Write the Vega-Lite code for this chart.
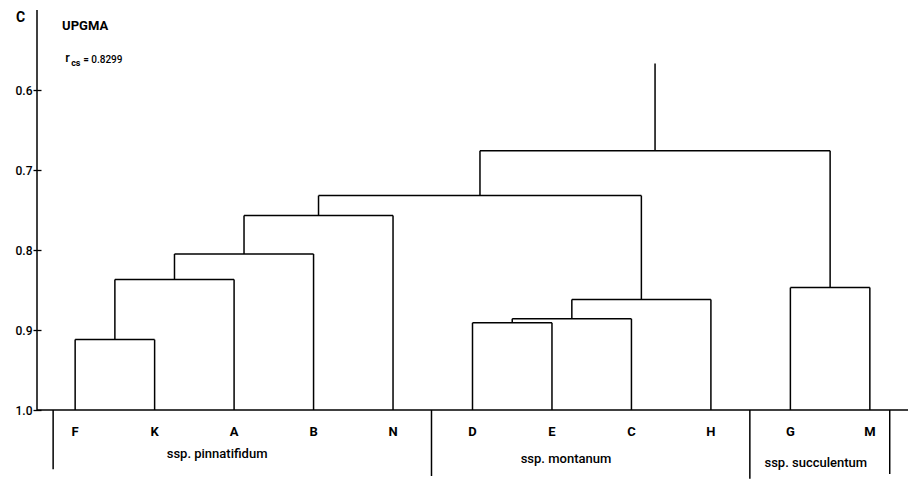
{
  "$schema": "https://vega.github.io/schema/vega-lite/v6.json",
  "width": 871,
  "height": 470,
  "autosize": "none",
  "padding": {"left": 37, "top": 10, "right": 0, "bottom": 0},
  "background": "white",
  "config": {"view": {"stroke": null}},
  "datasets": {
    "tree": [
      {"x": 1, "x2": 2, "y": 0.912, "y2": 0.912},
      {"x": 1, "x2": 1, "y": 0.912, "y2": 1.0},
      {"x": 2, "x2": 2, "y": 0.912, "y2": 1.0},
      {"x": 1.5, "x2": 3, "y": 0.837, "y2": 0.837},
      {"x": 1.5, "x2": 1.5, "y": 0.837, "y2": 0.912},
      {"x": 3, "x2": 3, "y": 0.837, "y2": 1.0},
      {"x": 2.25, "x2": 4, "y": 0.805, "y2": 0.805},
      {"x": 2.25, "x2": 2.25, "y": 0.805, "y2": 0.837},
      {"x": 4, "x2": 4, "y": 0.805, "y2": 1.0},
      {"x": 3.125, "x2": 5, "y": 0.757, "y2": 0.757},
      {"x": 3.125, "x2": 3.125, "y": 0.757, "y2": 0.805},
      {"x": 5, "x2": 5, "y": 0.757, "y2": 1.0},
      {"x": 6, "x2": 7, "y": 0.891, "y2": 0.891},
      {"x": 6, "x2": 6, "y": 0.891, "y2": 1.0},
      {"x": 7, "x2": 7, "y": 0.891, "y2": 1.0},
      {"x": 6.5, "x2": 8, "y": 0.886, "y2": 0.886},
      {"x": 6.5, "x2": 6.5, "y": 0.886, "y2": 0.891},
      {"x": 8, "x2": 8, "y": 0.886, "y2": 1.0},
      {"x": 7.25, "x2": 9, "y": 0.862, "y2": 0.862},
      {"x": 7.25, "x2": 7.25, "y": 0.862, "y2": 0.886},
      {"x": 9, "x2": 9, "y": 0.862, "y2": 1.0},
      {"x": 4.0625, "x2": 8.125, "y": 0.732, "y2": 0.732},
      {"x": 4.0625, "x2": 4.0625, "y": 0.732, "y2": 0.757},
      {"x": 8.125, "x2": 8.125, "y": 0.732, "y2": 0.862},
      {"x": 10, "x2": 11, "y": 0.847, "y2": 0.847},
      {"x": 10, "x2": 10, "y": 0.847, "y2": 1.0},
      {"x": 11, "x2": 11, "y": 0.847, "y2": 1.0},
      {"x": 6.094, "x2": 10.5, "y": 0.676, "y2": 0.676},
      {"x": 6.094, "x2": 6.094, "y": 0.676, "y2": 0.732},
      {"x": 10.5, "x2": 10.5, "y": 0.676, "y2": 0.847},
      {"x": 8.297, "x2": 8.297, "y": 0.567, "y2": 0.676}
    ],
    "frame": [
      {"x": 0.52, "x2": 0.52, "y": 0.5, "y2": 1.0},
      {"x": 0.52, "x2": 11.48, "y": 1.0, "y2": 1.0},
      {"x": 0.723, "x2": 0.723, "y": 1.0, "y2": 1.074},
      {"x": 5.484, "x2": 5.484, "y": 1.0, "y2": 1.0825},
      {"x": 9.49, "x2": 9.49, "y": 1.0, "y2": 1.086},
      {"x": 11.25, "x2": 11.25, "y": 1.0, "y2": 1.08}
    ],
    "leaves": [
      {"x": 1, "y": 1.027, "label": "F"},
      {"x": 2, "y": 1.027, "label": "K"},
      {"x": 3, "y": 1.027, "label": "A"},
      {"x": 4, "y": 1.027, "label": "B"},
      {"x": 5, "y": 1.027, "label": "N"},
      {"x": 6, "y": 1.027, "label": "D"},
      {"x": 7, "y": 1.027, "label": "E"},
      {"x": 8, "y": 1.027, "label": "C"},
      {"x": 9, "y": 1.027, "label": "H"},
      {"x": 10, "y": 1.027, "label": "G"},
      {"x": 11, "y": 1.027, "label": "M"}
    ],
    "groups": [
      {"x": 2.786, "y": 1.055, "label": "ssp. pinnatifidum"},
      {"x": 7.176, "y": 1.061, "label": "ssp. montanum"},
      {"x": 10.32, "y": 1.066, "label": "ssp. succulentum"}
    ],
    "title": [{"x": 0.836, "y": 0.5206, "label": "UPGMA"}],
    "rmain": [{"x": 0.874, "y": 0.56, "label": "r"}],
    "rsub": [{"x": 0.95, "y": 0.5663, "label": "cs"}],
    "rval": [{"x": 1.1006, "y": 0.5625, "label": "= 0.8299"}],
    "ticks": [
      {"c": 0.6}, {"c": 0.7}, {"c": 0.8}, {"c": 0.9}, {"c": 1.0}
    ]
  },
  "layer": [
    {
      "data": {"name": "ticks"},
      "mark": {"type": "point", "opacity": 0},
      "encoding": {
        "x": {"datum": 0.52, "type": "quantitative", "scale": {"domain": [0.52, 11.48], "nice": false, "zero": false}, "axis": null},
        "y": {
          "field": "c", "type": "quantitative",
          "scale": {"domain": [0.5, 1.0875], "nice": false, "zero": false, "reverse": true},
          "axis": {
            "values": [0.6, 0.7, 0.8, 0.9, 1.0],
            "format": ".1f",
            "grid": false,
            "domain": false,
            "offset": -4,
            "tickSize": 8,
            "tickColor": "black",
            "tickWidth": 1.3,
            "labelPadding": 1,
            "labelFont": "Roboto",
            "labelFontSize": 12,
            "labelFontWeight": 500,
            "labelColor": "black",
            "title": "C",
            "titleAngle": 0,
            "titleX": -21,
            "titleY": 7,
            "titleAlign": "center",
            "titleBaseline": "middle",
            "titleFont": "Roboto",
            "titleFontSize": 14,
            "titleFontWeight": "bold",
            "titleColor": "black"
          }
        }
      }
    },
    {
      "data": {"name": "frame"},
      "mark": {"type": "rule", "color": "black", "strokeWidth": 1.5},
      "encoding": {
        "x": {"field": "x", "type": "quantitative"},
        "x2": {"field": "x2"},
        "y": {"field": "y", "type": "quantitative"},
        "y2": {"field": "y2"}
      }
    },
    {
      "data": {"name": "tree"},
      "mark": {"type": "rule", "color": "black", "strokeWidth": 1.5},
      "encoding": {
        "x": {"field": "x", "type": "quantitative"},
        "x2": {"field": "x2"},
        "y": {"field": "y", "type": "quantitative"},
        "y2": {"field": "y2"}
      }
    },
    {
      "data": {"name": "leaves"},
      "mark": {"type": "text", "font": "Roboto", "fontSize": 13, "fontWeight": "bold", "color": "black", "align": "center", "baseline": "middle"},
      "encoding": {
        "x": {"field": "x", "type": "quantitative"},
        "y": {"field": "y", "type": "quantitative"},
        "text": {"field": "label"}
      }
    },
    {
      "data": {"name": "groups"},
      "mark": {"type": "text", "font": "Roboto", "fontSize": 13, "fontWeight": 500, "color": "black", "align": "center", "baseline": "middle"},
      "encoding": {
        "x": {"field": "x", "type": "quantitative"},
        "y": {"field": "y", "type": "quantitative"},
        "text": {"field": "label"}
      }
    },
    {
      "data": {"name": "title"},
      "mark": {"type": "text", "font": "Roboto", "fontSize": 13, "fontWeight": "bold", "color": "black", "align": "left", "baseline": "middle"},
      "encoding": {
        "x": {"field": "x", "type": "quantitative"},
        "y": {"field": "y", "type": "quantitative"},
        "text": {"field": "label"}
      }
    },
    {
      "data": {"name": "rmain"},
      "mark": {"type": "text", "font": "Roboto", "fontSize": 13, "fontWeight": 500, "color": "black", "align": "left", "baseline": "middle"},
      "encoding": {
        "x": {"field": "x", "type": "quantitative"},
        "y": {"field": "y", "type": "quantitative"},
        "text": {"field": "label"}
      }
    },
    {
      "data": {"name": "rsub"},
      "mark": {"type": "text", "font": "Roboto", "fontSize": 9, "fontWeight": "bold", "color": "black", "align": "left", "baseline": "middle"},
      "encoding": {
        "x": {"field": "x", "type": "quantitative"},
        "y": {"field": "y", "type": "quantitative"},
        "text": {"field": "label"}
      }
    },
    {
      "data": {"name": "rval"},
      "mark": {"type": "text", "font": "Roboto", "fontSize": 10, "fontWeight": 500, "color": "black", "align": "left", "baseline": "middle"},
      "encoding": {
        "x": {"field": "x", "type": "quantitative"},
        "y": {"field": "y", "type": "quantitative"},
        "text": {"field": "label"}
      }
    }
  ]
}
